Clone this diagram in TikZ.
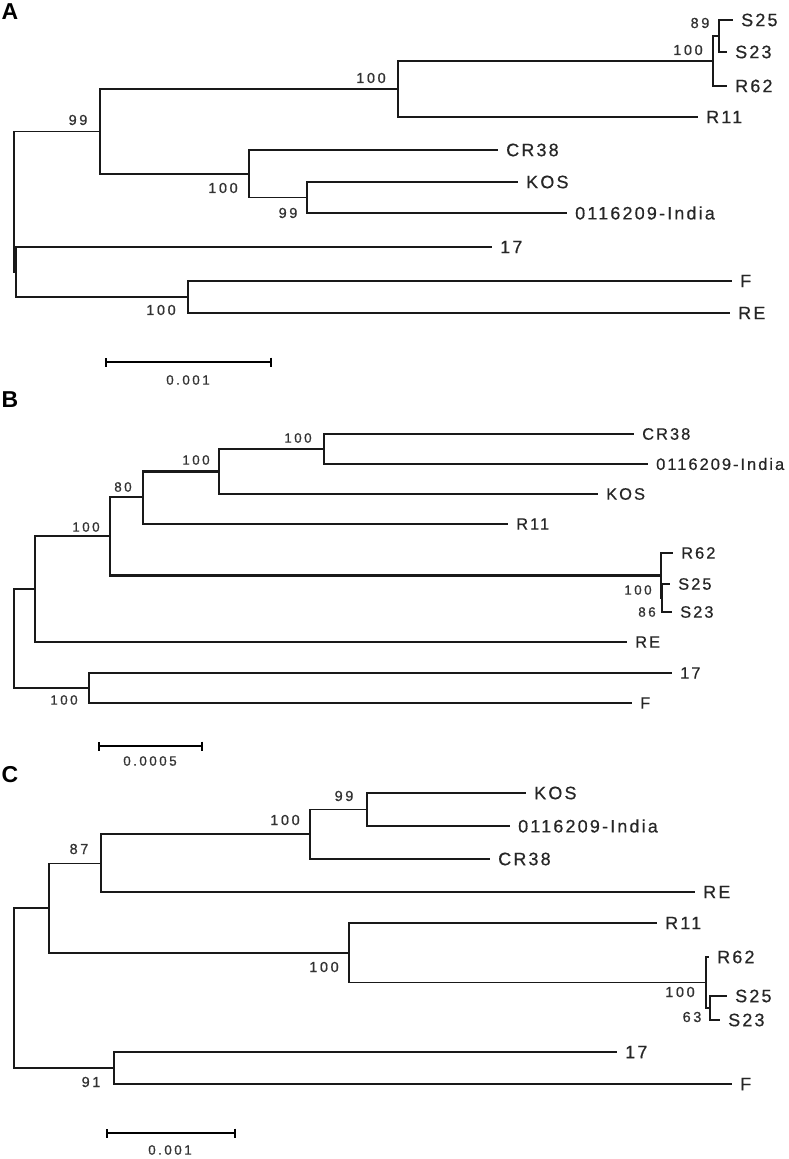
\documentclass[tikz,border=0pt]{standalone}
\usepackage{fontspec}
\setmainfont{Liberation Sans}
\newfontfamily\leaffont[LetterSpace=12, FakeBold=0.5]{Liberation Sans}
\newfontfamily\bootfont[LetterSpace=18, FakeBold=0.7]{Liberation Sans}
\usepackage{tikz}
\usetikzlibrary{arrows.meta}

\begin{document}
\begin{tikzpicture}[
        x=1pt, y=-1pt,
        branch/.style={line width=1.7pt, black!90},
        leaf/.style={anchor=west, inner xsep=8pt, inner ysep=0pt,
                     font=\leaffont\fontsize{18}{18}\selectfont, text=black!85},
        boot/.style={inner sep=0pt, font=\bootfont\fontsize{14.5}{14.5}\selectfont, text=black!80},
        panel/.style={inner sep=0pt, font=\bfseries\fontsize{23}{23}\selectfont},
        scalebar/.style={line width=1.7pt, {Bar[width=9pt]}-{Bar[width=9pt]}},
        scalelbl/.style={inner sep=0pt, font=\bootfont\fontsize{13.5}{13.5}\selectfont, text=black!80}
      ]
        \useasboundingbox (0,0) rectangle (788,1159);
        % Panel letters
        \node[panel] (pA) at (10,12) {A};
        \node[panel] (pB) at (10,400) {B};
        \node[panel] (pC) at (10,775) {C};

        % ---- Panel A ----
        % Internal nodes
        \foreach \n/\x/\y in {a0/14/201.7, a99/100/131.4, aR/16/272, a100h/398/89,
                              a100c/249/173.75, a100s/713/61, a89/719/36,
                              a99k/307/197.5, aFR/188/297}{
          \coordinate (\n) at (\x,\y);
        }
        % Leaves
        \foreach \n/\x/\y/\t in {aS25/733/20/S25, aS23/727/52/S23, aR62/727/86/R62,
                                 aR11/698/117/R11, aCR38/498/150/CR38, aKOS/518/182/KOS,
                                 aIND/567/213/0116209-India, a17/492/247/17,
                                 aF/732/281/F, aRE/730/313/RE}{
          \node[leaf] (\n) at (\x,\y) {\t};
        }
        % Branches
        \foreach \p/\c in {a0/a99, a0/aR, a99/a100h, a99/a100c, a100h/a100s,
                           a100s/a89, a100c/a99k, aR/aFR}
          \draw[branch] (\p) |- (\c);
        \foreach \p/\c in {a89/aS25, a89/aS23, a100s/aR62, a100h/aR11, a100c/aCR38,
                           a99k/aKOS, a99k/aIND, aR/a17, aFR/aF, aFR/aRE}
          \draw[branch] (\p) |- (\c.west);
        % Bootstrap values
        \foreach \n/\x/\y/\t in {ba1/78/120/99, ba2/371/78/100, ba3/688/50/100,
                                 ba4/700/23/89, ba5/223/188/100, ba6/288/213/99,
                                 ba7/161/310/100}{
          \node[boot] (\n) at (\x,\y) {\t};
        }
        % Scale bar
        \coordinate (sa1) at (105,362);
        \coordinate (sa2) at (272,362);
        \draw[scalebar] (sa1) -- (sa2);
        \node[scalelbl] (sal) at (188,380) {0.001};

        % ---- Panel B ----
        \begin{scope}[leaf/.append style={font=\leaffont\fontsize{16.5}{16.5}\selectfont},
                      boot/.append style={font=\bootfont\fontsize{13.5}{13.5}\selectfont},
                      branch/.append style={line width=2.1pt}]
        % Internal nodes
        \foreach \n/\x/\y in {b0/14/638.5, b100a/35/589, b1/110/536, b2/143/497,
                              b3/219/471.5, b4/324/449, bS/661/575.5, b86/662/598,
                              b100f/89/688}{
          \coordinate (\n) at (\x,\y);
        }
        % Leaves
        \foreach \n/\x/\y/\t in {bCR38/634/434/CR38, bIND/648/464/0116209-India,
                                 bKOS/598/494/KOS, bR11/508/524/R11, bR62/673/553/R62,
                                 bS25/670/584/S25, bS23/672/612/S23, bRE/627/642/RE,
                                 b17/672/673/17, bF/632/703/F}{
          \node[leaf] (\n) at (\x,\y) {\t};
        }
        % Branches
        \foreach \p/\c in {b0/b100a, b0/b100f, b100a/b1, b1/b2, b1/bS, b2/b3,
                           b3/b4, bS/b86}
          \draw[branch] (\p) |- (\c);
        \foreach \p/\c in {b100a/bRE, b2/bR11, b3/bKOS, b4/bCR38, b4/bIND, bS/bR62,
                           b86/bS25, b86/bS23, b100f/b17, b100f/bF}
          \draw[branch] (\p) |- (\c.west);
        % Bootstrap values
        \foreach \n/\x/\y/\t in {bb1/86/527/100, bb2/123/487/80, bb3/196/460/100,
                                 bb4/298/438/100, bb5/638/590/100, bb6/647/612/86,
                                 bb7/64/700/100}{
          \node[boot] (\n) at (\x,\y) {\t};
        }
        % Scale bar
        \coordinate (sb1) at (98,746);
        \coordinate (sb2) at (203,746);
        \draw[scalebar] (sb1) -- (sb2);
        \node[scalelbl] (sbl) at (150,761) {0.0005};
        \end{scope}

        % ---- Panel C ----
        % Internal nodes
        \foreach \n/\x/\y in {c0/14/988, c1/49/908, c87/101/863.5, c100k/310/834,
                              c99/367/809.5, c100r/349/952.75, c100s/706/982.5,
                              c63/710/1008, c91/114/1068}{
          \coordinate (\n) at (\x,\y);
        }
        % Leaves
        \foreach \n/\x/\y/\t in {cKOS/526/793/KOS, cIND/510/826/0116209-India,
                                 cCR38/490/859/CR38, cRE/695/892/RE, cR11/657/923/R11,
                                 cR62/709/957/R62, cS25/727/996/S25, cS23/720/1020/S23,
                                 c17/617/1052/17, cF/732/1084/F}{
          \node[leaf] (\n) at (\x,\y) {\t};
        }
        % Branches
        \foreach \p/\c in {c0/c1, c0/c91, c1/c87, c1/c100r, c87/c100k, c100k/c99,
                           c100r/c100s, c100s/c63}
          \draw[branch] (\p) |- (\c);
        \foreach \p/\c in {c99/cKOS, c99/cIND, c100k/cCR38, c87/cRE, c100r/cR11,
                           c100s/cR62, c63/cS25, c63/cS23, c91/c17, c91/cF}
          \draw[branch] (\p) |- (\c.west);
        % Bootstrap values
        \foreach \n/\x/\y/\t in {bc1/79/849/87, bc2/285/820/100, bc3/344/796/99,
                                 bc4/324/967/100, bc5/680/992/100, bc6/692/1017/63,
                                 bc7/91/1082/91}{
          \node[boot] (\n) at (\x,\y) {\t};
        }
        % Scale bar
        \coordinate (sc1) at (106,1133);
        \coordinate (sc2) at (236,1133);
        \draw[scalebar] (sc1) -- (sc2);
        \node[scalelbl] (scl) at (170,1150) {0.001};
      \end{tikzpicture}
\end{document}
